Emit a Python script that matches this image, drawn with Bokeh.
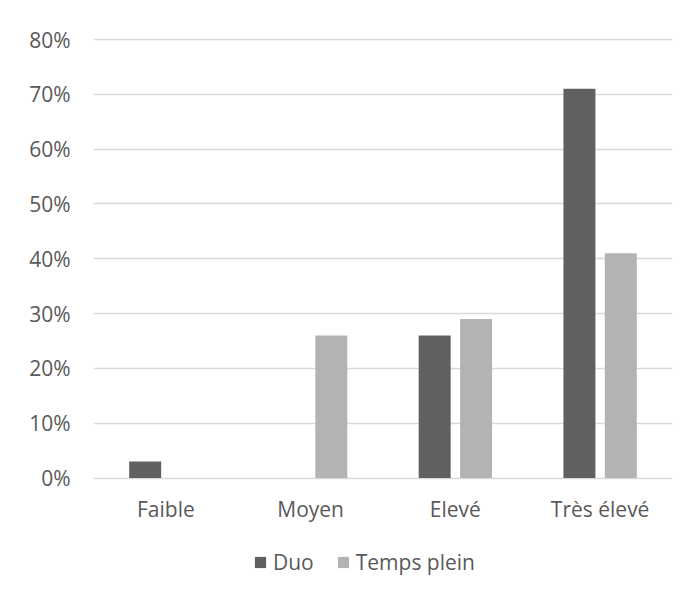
from bokeh.plotting import figure
from bokeh.models import (ColumnDataSource, Range1d, NumeralTickFormatter,
                          FixedTicker, Legend, LegendItem)
from bokeh.core.properties import value
from bokeh.transform import dodge
from bokeh.embed import file_html
from bokeh.resources import INLINE

categories = ["Faible", "Moyen", "Elevé", "Très élevé"]
duo = [0.03, 0.0, 0.26, 0.71]
temps_plein = [0.0, 0.26, 0.29, 0.41]
y_ticks = [0.0, 0.1, 0.2, 0.3, 0.4, 0.5, 0.6, 0.7, 0.8]

FONT = "Open Sans"
FONT_SIZE = "21px"
TEXT = "#595959"
GRID = "#d9d9d9"
DARK = "#606060"
LIGHT = "#b3b3b3"

W, H = 690, 589
LEFT, RIGHT, TOP = 93, 672, 30
ZERO_PX, TOP_TICK_PX = 477.5, 39.0   # where 0% and the top tick sit

# the frame runs to the bottom of the canvas so the legend below the
# category labels stays inside it; extend the value range accordingly
ppu = (ZERO_PX - TOP_TICK_PX) / max(y_ticks)
y_start = -(H - ZERO_PX) / ppu
y_end = max(y_ticks) + (TOP_TICK_PX - TOP) / ppu

slots = [i + 0.5 for i in range(len(categories))]
source = ColumnDataSource(dict(x=slots, cat=categories, duo=duo, tp=temps_plein))

p = figure(width=W, height=H, output_backend="svg", toolbar_location=None,
           x_range=Range1d(0, len(categories)), y_range=Range1d(y_start, y_end),
           x_axis_location=None,
           min_border_left=LEFT, min_border_right=W - RIGHT,
           min_border_top=TOP, min_border_bottom=0)
p.outline_line_color = None
p.background_fill_color = "white"
p.border_fill_color = "white"

r_duo = p.vbar(x=dodge("x", -0.143), top="duo", width=0.221,
               source=source, fill_color=DARK, line_color=None)
r_tp = p.vbar(x=dodge("x", 0.143), top="tp", width=0.221,
              source=source, fill_color=LIGHT, line_color=None)

# category labels under the 0% line
p.text(x="x", y=0, text="cat", source=source, y_offset=31,
       text_align="center", text_baseline="middle",
       text_font=value(FONT), text_font_size=value(FONT_SIZE), text_color=TEXT)

p.yaxis.ticker = FixedTicker(ticks=y_ticks)
p.yaxis.formatter = NumeralTickFormatter(format="0%")
p.yaxis.axis_line_color = None
p.yaxis.major_tick_line_color = None
p.yaxis.minor_tick_line_color = None
p.yaxis.major_tick_out = 0
p.yaxis.major_tick_in = 0
p.yaxis.minor_tick_out = 0
p.yaxis.major_label_text_font = FONT
p.yaxis.major_label_text_font_size = FONT_SIZE
p.yaxis.major_label_text_color = TEXT
p.yaxis.major_label_standoff = 23

p.xgrid.grid_line_color = None
p.ygrid.grid_line_color = GRID
p.ygrid.grid_line_width = 1.5

legend = Legend(items=[LegendItem(label="Duo", renderers=[r_duo]),
                       LegendItem(label="Temps plein", renderers=[r_tp])],
                orientation="horizontal", location=(160, 13),
                label_text_font=FONT, label_text_font_size=FONT_SIZE, label_text_color=TEXT,
                glyph_width=14, glyph_height=14, label_standoff=6, spacing=22,
                padding=0, margin=0, border_line_color=None, background_fill_alpha=0)
p.add_layout(legend, "center")

open("out.html", "w").write(file_html(p, INLINE))
